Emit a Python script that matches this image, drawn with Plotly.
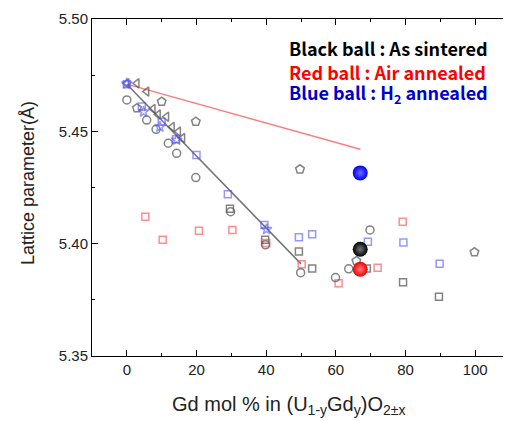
import plotly.graph_objects as go

# ---- data ----
gray_pent_x = [2.9, 10.0, 19.8, 49.7, 99.8, 65.9]
gray_pent_y = [5.4603, 5.4632, 5.4543, 5.4331, 5.3962, 5.3923]

gray_circ_x = [0.0, 5.7, 8.4, 11.9, 14.3, 19.8, 29.8, 39.8, 49.9, 59.9, 63.7, 69.8]
gray_circ_y = [5.4640, 5.4550, 5.4509, 5.4447, 5.4402, 5.4294, 5.4142, 5.3995, 5.3871, 5.3849, 5.3888, 5.4061]

gray_sq_x = [29.6, 39.7, 49.4, 53.2, 68.9, 79.3, 89.6]
gray_sq_y = [5.4155, 5.4017, 5.3965, 5.3889, 5.3890, 5.3828, 5.3764]

gray_tri_x = [0.0, 2.9, 5.7, 7.5, 9.0, 11.4, 13.0, 14.8, 16.0]
gray_tri_y = [5.4714, 5.4714, 5.4677, 5.4600, 5.4575, 5.4565, 5.4520, 5.4499, 5.4470]

blue_sq_x = [0.0, 4.3, 10.0, 14.1, 20.0, 29.0, 39.5, 49.4, 53.2, 69.2, 79.4, 89.8]
blue_sq_y = [5.4710, 5.4610, 5.4543, 5.4465, 5.4395, 5.4220, 5.4083, 5.4029, 5.4042, 5.4009, 5.4005, 5.3911]

blue_star_x = [0.0, 4.8, 9.5, 14.3, 40.1]
blue_star_y = [5.4712, 5.4587, 5.4520, 5.4462, 5.4064]

red_sq_x = [5.3, 10.3, 20.7, 30.3, 40.0, 50.2, 60.8, 72.0, 79.2]
red_sq_y = [5.4120, 5.4017, 5.4058, 5.4061, 5.4003, 5.3908, 5.3824, 5.3893, 5.4098]

gray_line_x = [0, 50]
gray_line_y = [5.471, 5.391]
red_line_x = [0, 67]
red_line_y = [5.471, 5.442]

ball_x = [67, 67, 67]
ball_y = [5.4315, 5.3975, 5.3886]
ball_colors = ["#0000ee", "#000000", "#ee0000"]
ball_centers = ["#6a6aff", "#777777", "#ff7a7a"]

legend_texts = ["Black ball : As sintered", "Red ball : Air annealed",
                "Blue ball : H<sub>2</sub> annealed"]
legend_colors = ["#000000", "#ff0000", "#0000cc"]
legend_y = [0.914, 0.844, 0.779]

GRAY = "rgba(90,90,90,0.75)"
BLUE = "rgba(80,80,255,0.6)"
RED = "rgba(255,80,80,0.65)"

fig = go.Figure()

fig.add_trace(go.Scatter(x=red_line_x, y=red_line_y, mode="lines",
                         line=dict(color="rgba(255,110,110,0.9)", width=1.5)))
fig.add_trace(go.Scatter(x=gray_line_x, y=gray_line_y, mode="lines",
                         line=dict(color="rgba(100,100,100,0.9)", width=1.5)))

def mk(x, y, sym, color, size):
    fig.add_trace(go.Scatter(x=x, y=y, mode="markers",
                             marker=dict(symbol=sym, size=size, color=color,
                                         line=dict(color=color, width=1.5))))

mk(red_sq_x, red_sq_y, "square-open", RED, 7)
mk(gray_pent_x, gray_pent_y, "pentagon-open", GRAY, 9)
mk(gray_circ_x, gray_circ_y, "circle-open", GRAY, 8)
mk(gray_sq_x, gray_sq_y, "square-open", GRAY, 7)
mk(gray_tri_x, gray_tri_y, "triangle-left-open", GRAY, 8)
mk(blue_sq_x, blue_sq_y, "square-open", BLUE, 7)
mk(blue_star_x, blue_star_y, "star-open", BLUE, 8)

for bx, by, bc, cc in zip(ball_x, ball_y, ball_colors, ball_centers):
    fig.add_trace(go.Scatter(x=[bx], y=[by], mode="markers",
                             marker=dict(symbol="circle", size=15, color=bc,
                                         gradient=dict(type="radial", color=cc),
                                         line=dict(width=0))))

for t, c, ly in zip(legend_texts, legend_colors, legend_y):
    fig.add_annotation(text="<b>" + t + "</b>", x=0.466, xref="paper",
                       xanchor="left", y=ly, yref="paper",
                       yanchor="middle", showarrow=False,
                       font=dict(family="Noto Sans CJK KR", size=18, color=c))

fig.add_annotation(text="Gd mol % in (U<sub>1-y</sub>Gd<sub>y</sub>)O<sub>2±x</sub>",
                   x=0.471, xref="paper", xanchor="center",
                   y=0, yref="paper", yanchor="middle", yshift=-49,
                   showarrow=False,
                   font=dict(family="Liberation Sans, Arial", size=20, color="#222"))
fig.add_annotation(text="Lattice parameter(Å)", textangle=-90,
                   x=0, xref="paper", xanchor="center", xshift=-64,
                   y=0.513, yref="paper", yanchor="middle",
                   showarrow=False,
                   font=dict(family="Liberation Sans, Arial", size=18, color="#222"))

axis_common = dict(showline=True, linecolor="black", linewidth=1, mirror="ticks",
                   ticks="inside", ticklen=6, tickcolor="black", showgrid=False,
                   zeroline=False, automargin=False,
                   tickfont=dict(family="Liberation Sans, Arial", size=15, color="#222"))

fig.update_xaxes(range=[-10, 110], tickvals=[0, 20, 40, 60, 80, 100],
                 minor=dict(dtick=10, tick0=0, ticks="inside", ticklen=3, tickcolor="black"),
                 **axis_common)
fig.update_yaxes(range=[5.35, 5.50], tickvals=[5.35, 5.40, 5.45, 5.50], tickformat=".2f",
                 minor=dict(dtick=0.025, tick0=5.35, ticks="inside", ticklen=3, tickcolor="black"),
                 **axis_common)

# page body has an 8px default margin, so the figure is sized/placed to compensate
fig.update_layout(width=503, height=413, showlegend=False,
                  margin=dict(l=84, r=1, t=11, b=65),
                  plot_bgcolor="white", paper_bgcolor="white")

fig.write_html("out.html")
